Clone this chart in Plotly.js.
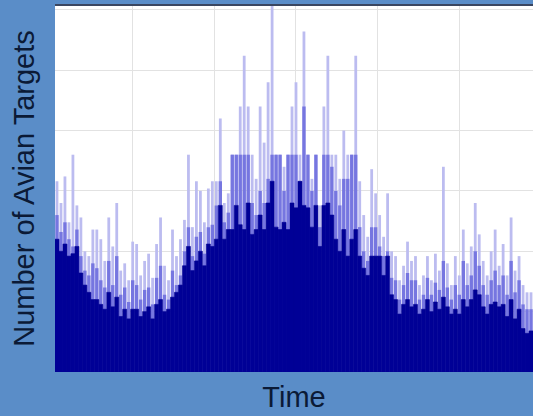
<!DOCTYPE html>
<html>
<head>
<meta charset="utf-8">
<script src="https://cdn.plot.ly/plotly-3.0.1.min.js"></script>
<style>html,body{margin:0;padding:0;background:#5a8dc8;}#chart{width:533px;height:416px;}</style>
</head>
<body>
<div id="chart"></div>
<script>
// Time bins (index), 120 bins
const timeBins = [];
for (let i = 0; i < 120; i++) timeBins.push(i);

// Light layer (tall pale spikes)
const lightCounts = [
  7.9, 7.0, 8.1, 6.2, 9.0, 6.9, 6.4, 5.0, 4.8, 5.9,
  5.9, 5.5, 4.6, 6.4, 5.2, 7.0, 4.2, 4.5, 3.8, 5.4,
  5.3, 4.0, 4.6, 4.9, 3.9, 5.3, 6.4, 4.4, 3.8, 5.9,
  4.8, 5.5, 6.3, 9.0, 6.0, 7.9, 7.5, 6.2, 7.6, 7.9,
  7.9, 10.5, 7.0, 7.4, 9.0, 9.0, 11.0, 13.1, 11.0, 9.0,
  8.0, 11.0, 9.5, 12.0, 15.2, 9.0, 9.0, 8.5, 9.0, 11.0,
  12.0, 9.0, 14.1, 9.0, 8.0, 9.0, 6.9, 11.0, 13.1, 9.0,
  9.0, 8.0, 10.0, 9.0, 9.0, 13.1, 7.9, 6.5, 5.6, 8.4,
  7.4, 6.5, 5.6, 7.4, 5.0, 4.8, 3.8, 4.4, 5.4, 4.6,
  4.8, 3.6, 4.0, 4.8, 3.8, 4.9, 4.2, 8.5, 4.5, 3.6,
  4.8, 4.0, 5.9, 4.5, 5.2, 7.0, 5.7, 4.6, 4.0, 5.0,
  5.9, 4.4, 5.3, 4.0, 6.4, 4.2, 4.8, 3.6, 3.3, 3.3
];

// Mid layer
const midCounts = [
  6.5, 5.8, 6.2, 5.5, 5.2, 5.9, 4.8, 4.2, 4.0, 4.5,
  4.3, 3.8, 3.5, 4.6, 3.6, 4.8, 3.2, 3.5, 2.9, 3.8,
  3.6, 3.0, 3.4, 3.5, 2.8, 3.9, 4.4, 3.2, 3.0, 4.2,
  3.6, 4.0, 5.0, 6.0, 4.8, 5.6, 5.8, 4.9, 6.0, 6.1,
  6.9, 7.9, 6.2, 6.6, 9.0, 9.0, 9.0, 9.0, 9.0, 7.0,
  6.5, 7.5, 7.0, 8.0, 9.0, 9.0, 9.0, 7.5, 9.0, 9.0,
  9.0, 7.9, 11.0, 9.0, 7.5, 9.0, 6.0, 9.0, 9.0, 8.5,
  7.5, 6.9, 8.0, 8.0, 9.0, 9.0, 6.0, 5.0, 4.6, 6.0,
  6.0, 5.2, 4.8, 5.0, 3.9, 3.8, 3.0, 3.6, 4.1, 3.8,
  3.8, 3.0, 3.2, 3.9, 3.2, 3.7, 3.4, 4.6, 3.5, 3.0,
  3.6, 3.2, 4.6, 3.6, 4.0, 5.0, 4.4, 3.6, 3.2, 3.8,
  4.2, 3.6, 4.0, 3.2, 4.6, 3.3, 3.8, 2.8, 2.6, 2.6
];

// Dark base layer
const darkCounts = [
  5.5, 5.0, 5.3, 4.8, 4.9, 5.2, 4.1, 3.6, 3.3, 3.0,
  3.0, 2.8, 2.6, 3.3, 2.7, 3.1, 2.3, 2.6, 2.2, 2.6,
  2.6, 2.3, 2.5, 2.7, 2.2, 2.8, 3.0, 2.5, 2.6, 3.1,
  3.3, 3.6, 4.4, 5.2, 4.2, 4.6, 5.0, 4.4, 5.3, 5.2,
  5.5, 6.9, 5.5, 5.9, 5.9, 6.9, 6.1, 5.9, 7.0, 5.7,
  5.9, 6.5, 5.9, 7.0, 7.9, 6.0, 5.9, 6.2, 5.9, 7.0,
  6.8, 7.9, 6.9, 6.8, 6.0, 6.9, 5.2, 6.9, 7.0, 6.5,
  5.5, 5.0, 5.9, 4.8, 5.5, 5.9, 4.8, 4.3, 4.0, 4.8,
  4.8, 4.8, 4.0, 4.8, 3.2, 3.0, 2.4, 2.8, 3.0, 2.7,
  2.8, 2.4, 2.6, 3.0, 2.5, 2.9, 2.6, 3.1, 2.7, 2.4,
  2.6, 2.4, 3.0, 2.7, 3.0, 3.4, 3.2, 2.7, 2.4, 2.8,
  2.9, 2.7, 2.8, 2.3, 3.0, 2.2, 2.6, 1.8, 1.6, 1.7
];

const xTitle = "Time";
const yTitle = "Number of Avian Targets";

const traces = [
  {type: 'bar', x: timeBins, y: lightCounts, width: 0.7,
   marker: {color: 'rgb(188,188,240)', line: {width: 0}}, hoverinfo: 'skip'},
  {type: 'bar', x: timeBins, y: midCounts, width: 0.85,
   marker: {color: 'rgb(118,118,224)', line: {width: 0}}, hoverinfo: 'skip'},
  {type: 'bar', x: timeBins, y: darkCounts, width: 1.0,
   marker: {color: 'rgb(0,0,150)', line: {width: 0.6, color: 'rgb(0,0,150)'}}, hoverinfo: 'skip'}
];

const titleFont = {family: 'Liberation Sans, Arial, sans-serif', size: 29, color: '#0b1a36'};

const layout = {
  width: 533, height: 416,
  paper_bgcolor: '#5a8dc8',
  plot_bgcolor: '#ffffff',
  margin: {l: 55, r: 0, t: 5, b: 44},
  barmode: 'overlay',
  showlegend: false,
  xaxis: {
    range: [-0.5, 119.5],
    showgrid: true, gridcolor: '#e2e2e2', gridwidth: 1,
    tick0: 19, dtick: 20.5,
    showticklabels: false, ticks: '', zeroline: false, showline: false,
    title: {text: xTitle, font: titleFont, standoff: 14}
  },
  yaxis: {
    range: [0, 15.2],
    showgrid: true, gridcolor: '#e2e2e2', gridwidth: 1,
    tick0: 0, dtick: 2.5,
    showticklabels: false, ticks: '', zeroline: false, showline: false,
    title: {text: yTitle, font: titleFont, standoff: 10}
  },
  shapes: [
    {type: 'line', xref: 'paper', yref: 'paper', x0: 0, x1: 1, y0: 1, y1: 1,
     line: {color: '#3a4660', width: 2}}
  ]
};

Plotly.newPlot('chart', traces, layout, {staticPlot: true, displayModeBar: false});
</script>
</body>
</html>
